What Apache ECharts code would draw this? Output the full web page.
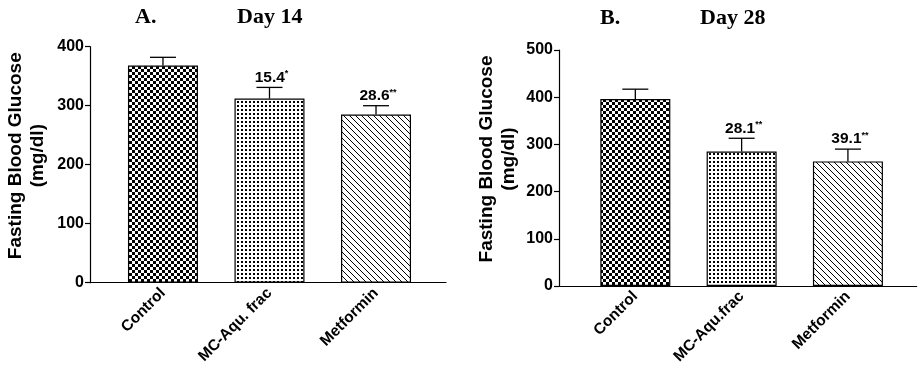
<!DOCTYPE html>
<html>
<head>
<meta charset="utf-8">
<script src="https://cdn.jsdelivr.net/npm/echarts@6/dist/echarts.min.js"></script>
<style>html,body{margin:0;padding:0;background:#fff}#c{width:924px;height:372px}</style>
</head>
<body>
<div id="c"></div>
<script>
// ---- data ----
const cats14 = ['Control', 'MC-Aqu. frac', 'Metformin'];
const mean14 = [368, 312, 285];
const err14 = [14, 19, 15];
const ann14 = ['', '15.4', '28.6'];
const star14 = ['', '*', '**'];

const cats28 = ['Control', 'MC-Aqu.frac', 'Metformin'];
const mean28 = [396, 285, 264];
const err28 = [21, 28, 26];
const ann28 = ['', '28.1', '39.1'];
const star28 = ['', '**', '**'];

const yTicks14 = [0, 100, 200, 300, 400];
const yTicks28 = [0, 100, 200, 300, 400, 500];
const titlesA = ['A.', 'Day 14'];
const titlesB = ['B.', 'Day 28'];
const yName = 'Fasting Blood Glucose\n(mg/dl)';

// ---- patterns ----
function mk(w, h, draw) {
  const c = document.createElement('canvas');
  c.width = w; c.height = h;
  const g = c.getContext('2d');
  g.fillStyle = '#fff'; g.fillRect(0, 0, w, h);
  g.fillStyle = '#000';
  draw(g);
  return { image: c, repeat: 'repeat' };
}
const checker = () => mk(6, 6, g => { g.fillRect(0, 0, 3, 3); g.fillRect(3, 3, 3, 3); });
const dots = () => mk(4, 4, g => { g.fillRect(1, 1, 2, 2); });
const diag = () => mk(6, 6, g => { for (let i = 0; i < 6; i++) g.fillRect(i, i, 1, 1); });
const patterns = [checker, dots, diag];

const sans = 'Liberation Sans, Arial, sans-serif';
const serif = 'Liberation Serif, Times New Roman, serif';

function barData(means) {
  return means.map((v, i) => ({ value: [i, v], itemStyle: { color: patterns[i]() } }));
}
function errData(means, errs) {
  return means.map((v, i) => [i, v, v + errs[i]]);
}
function errRender(anns, stars) {
  return function (params, api) {
    const i = params.dataIndex;
    const p0 = api.coord([api.value(0), api.value(1)]);
    const p1 = api.coord([api.value(0), api.value(2)]);
    const hw = 13;
    const children = [
      { type: 'line', shape: { x1: p0[0], y1: p0[1], x2: p1[0], y2: p1[1] }, style: { stroke: '#000', lineWidth: 1.3 } },
      { type: 'line', shape: { x1: p1[0] - hw, y1: p1[1], x2: p1[0] + hw, y2: p1[1] }, style: { stroke: '#000', lineWidth: 1.3 } }
    ];
    if (anns[i]) {
      children.push({
        type: 'text',
        style: {
          x: p1[0] + 2, y: p1[1] - 2,
          text: '{a|' + anns[i] + '}{s|' + stars[i] + '}',
          align: 'center', verticalAlign: 'bottom',
          rich: {
            a: { fontFamily: sans, fontWeight: 'bold', fontSize: 15.5, fill: '#000', lineHeight: 16 },
            s: { fontFamily: sans, fontWeight: 'bold', fontSize: 9, fill: '#000', verticalAlign: 'top', lineHeight: 16, padding: [0, 0, 6, 0] }
          }
        }
      });
    }
    return { type: 'group', children };
  };
}

function xAxis(gridIndex, cats, min, max) {
  return {
    gridIndex, type: 'value', min, max,
    splitLine: { show: false },
    axisLine: { show: true, onZero: false, lineStyle: { color: '#000', width: 1.2 } },
    axisTick: { show: false },
    axisLabel: {
      customValues: [0, 1, 2],
      formatter: v => cats[Math.round(v)],
      rotate: 45, margin: 8,
      color: '#000', fontFamily: sans, fontWeight: 'bold', fontSize: 15.5
    }
  };
}
function yAxis(gridIndex, ticks, gap) {
  return {
    gridIndex, type: 'value', min: ticks[0], max: ticks[ticks.length - 1], interval: ticks[1] - ticks[0],
    splitLine: { show: false },
    axisLine: { show: true, onZero: false, lineStyle: { color: '#000', width: 1.2 } },
    axisTick: { show: true, length: 5, lineStyle: { color: '#000', width: 1.2 } },
    axisLabel: { color: '#000', fontFamily: sans, fontWeight: 'bold', fontSize: 16, margin: 6 },
    name: yName, nameLocation: 'middle', nameGap: gap,
    nameTextStyle: { color: '#000', fontFamily: sans, fontWeight: 'bold', fontSize: 19, lineHeight: 22, padding: [0, 0, 0, 18] }
  };
}

const chart = echarts.init(document.getElementById('c'), null, { renderer: 'canvas' });
const tstyle = { fontFamily: serif, fontWeight: 'bold', fontSize: 22, color: '#000' };
chart.setOption({
  backgroundColor: '#fff',
  animation: false,
  title: [
    { text: titlesA[0], left: 135, top: 6, padding: 0, textStyle: tstyle },
    { text: titlesA[1], left: 237, top: 6, padding: 0, textStyle: tstyle },
    { text: titlesB[0], left: 600, top: 7, padding: 0, textStyle: tstyle },
    { text: titlesB[1], left: 700, top: 7, padding: 0, textStyle: tstyle }
  ],
  grid: [
    { left: 90, right: 478, top: 46.7, bottom: 89.3 },
    { left: 559, right: 7.3, top: 50, bottom: 86 }
  ],
  xAxis: [xAxis(0, cats14, -0.685, 2.657), xAxis(1, cats28, -0.718, 2.647)],
  yAxis: [yAxis(0, yTicks14, 41), yAxis(1, yTicks28, 39)],
  series: [
    { type: 'bar', xAxisIndex: 0, yAxisIndex: 0, barWidth: 70, data: barData(mean14),
      itemStyle: { borderColor: '#000', borderWidth: 1.2 } },
    { type: 'custom', xAxisIndex: 0, yAxisIndex: 0, z: 5, data: errData(mean14, err14), renderItem: errRender(ann14, star14) },
    { type: 'bar', xAxisIndex: 1, yAxisIndex: 1, barWidth: 70, data: barData(mean28),
      itemStyle: { borderColor: '#000', borderWidth: 1.2 } },
    { type: 'custom', xAxisIndex: 1, yAxisIndex: 1, z: 5, data: errData(mean28, err28), renderItem: errRender(ann28, star28) }
  ]
});
</script>
</body>
</html>
